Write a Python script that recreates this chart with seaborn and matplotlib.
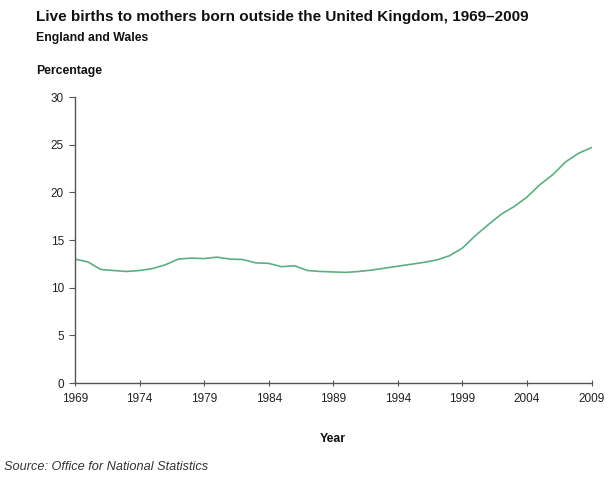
import numpy as np
import matplotlib.pyplot as plt
import seaborn as sns
import pandas as pd

# Percentage of live births to mothers born outside the UK, England and Wales
years = list(range(1969, 2010))
pct = [13.0, 12.7, 11.9, 11.8, 11.7, 11.8, 12.0, 12.4, 13.0, 13.1, 13.05,
       13.2, 13.0, 12.95, 12.6, 12.55, 12.2, 12.3, 11.8, 11.7, 11.65,
       11.6, 11.7, 11.85, 12.05, 12.25, 12.45, 12.65, 12.9, 13.35, 14.15,
       15.45, 16.6, 17.7, 18.5, 19.5, 20.8, 21.85, 23.2, 24.1, 24.7]
yticks = [0, 5, 10, 15, 20, 25, 30]
xticks = list(range(1969, 2010, 5))

df = pd.DataFrame({"Year": years, "Percentage": pct})

sns.set_style("ticks")
plt.rcParams["font.family"] = ["Liberation Sans", "DejaVu Sans"]

fig = plt.figure(figsize=(6.11, 4.8), dpi=100)
ax = fig.add_axes([75 / 611, 1 - 383 / 480, (591.5 - 75) / 611, (383 - 97) / 480])

sns.lineplot(data=df, x="Year", y="Percentage", ax=ax, color="#5DAE80", linewidth=1.2)

ax.set_xlim(1969, 2009)
ax.set_ylim(0, 30)
ax.set_xticks(xticks)
ax.set_yticks(yticks)
ax.set_xlabel("")
ax.set_ylabel("")
sns.despine(ax=ax)
for s in ["left", "bottom"]:
    ax.spines[s].set_color("#555555")
    ax.spines[s].set_linewidth(1.0)
ax.tick_params(axis="y", direction="out", length=4, color="#555555", labelsize=8.5,
               labelcolor="#222222", pad=4)
ax.tick_params(axis="x", direction="inout", length=5, color="#555555", labelsize=8.5,
               labelcolor="#222222", pad=5)

fig.text(36 / 611, 1 - 17 / 480, "Live births to mothers born outside the United Kingdom, 1969\u20132009",
         fontsize=11, fontweight="bold", va="center", ha="left", color="#111111")
fig.text(36 / 611, 1 - 38 / 480, "England and Wales", fontsize=8.8, fontweight="bold",
         va="center", ha="left", color="#111111")
fig.text(36 / 611, 1 - 71 / 480, "Percentage", fontsize=8.8, fontweight="bold",
         va="center", ha="left", color="#111111")
fig.text(333 / 611, 1 - 439 / 480, "Year", fontsize=8.8, fontweight="bold",
         va="center", ha="center", color="#111111")
fig.text(4 / 611, 1 - 467 / 480, "Source: Office for National Statistics", fontsize=9.2,
         fontstyle="italic", va="center", ha="left", color="#333333")

fig.savefig("out.png", dpi=100)
